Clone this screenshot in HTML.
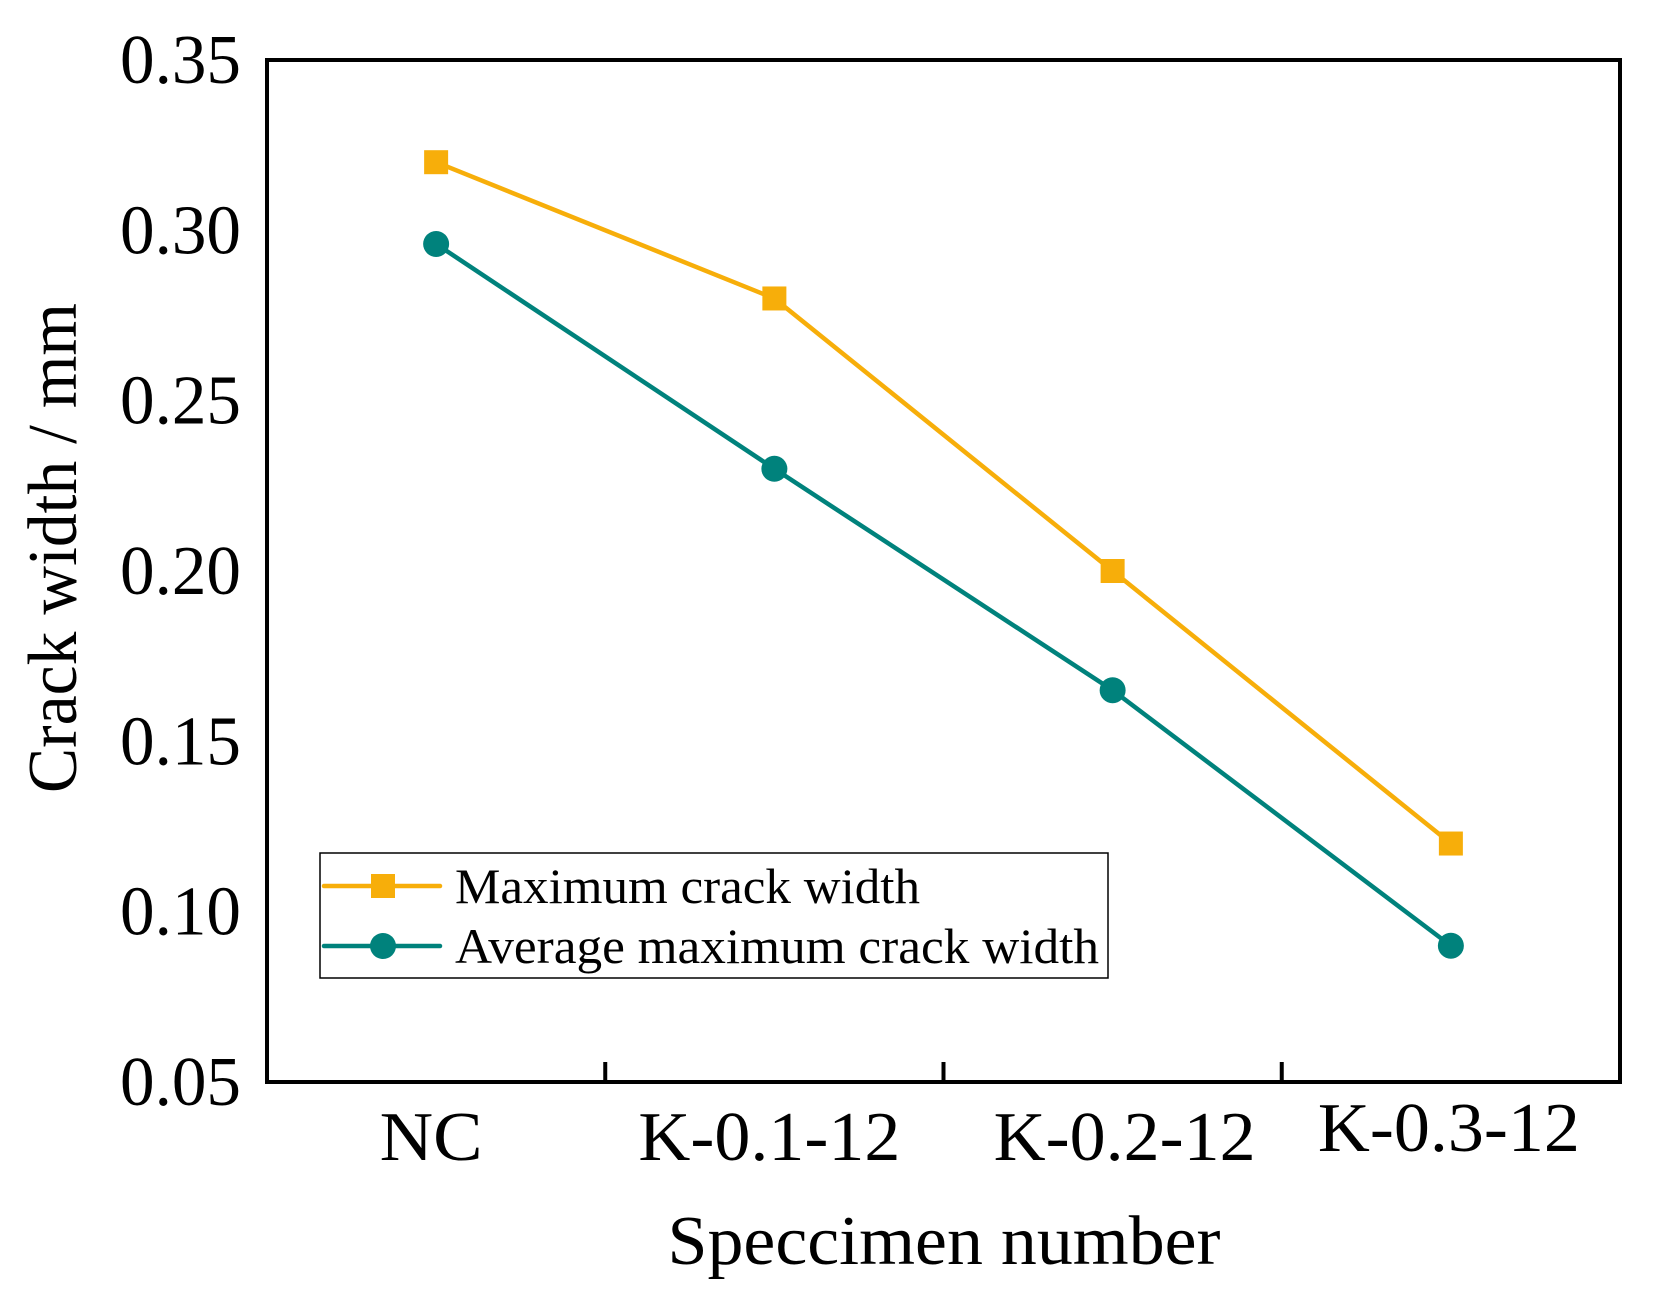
<!DOCTYPE html>
<html><head><meta charset="utf-8"><style>
html,body{margin:0;padding:0;background:#fff;}
svg{display:block;font-family:"Liberation Serif",serif;}
</style></head><body>
<svg id="chart" width="1665" height="1297" viewBox="0 0 1665 1297" xmlns="http://www.w3.org/2000/svg"></svg>
<script>
const categories = ["NC", "K-0.1-12", "K-0.2-12", "K-0.3-12"];
const maxWidth = [0.32, 0.28, 0.20, 0.12];
const avgWidth = [0.296, 0.23, 0.165, 0.09];
const yTicks = [0.05, 0.10, 0.15, 0.20, 0.25, 0.30, 0.35];
const yTickLabels = ["0.05", "0.10", "0.15", "0.20", "0.25", "0.30", "0.35"];

const L = 267, R = 1620, T = 60, B = 1082;
const yMin = 0.05, yMax = 0.35;
const band = (R - L) / categories.length;
function xPos(i){ return L + band * (i + 0.5); }
function yPos(v){ return B - (v - yMin) / (yMax - yMin) * (B - T); }
const svg = document.getElementById('chart');
const NS = "http://www.w3.org/2000/svg";
function mk(tag, attrs, parent){
  const e = document.createElementNS(NS, tag);
  for (const k in attrs) e.setAttribute(k, attrs[k]);
  (parent || svg).appendChild(e);
  return e;
}
const frame = mk('rect', {x:L, y:T, width:R-L, height:B-T, fill:'none', stroke:'#000', 'stroke-width':4});


yTicks.forEach((v, i) => {
  const y = yPos(v);
  const t = mk('text', {x:241, y:y+23, 'text-anchor':'end', 'font-size':70, fill:'#000', textLength:121, lengthAdjust:'spacingAndGlyphs'});
  t.textContent = yTickLabels[i];
  
  
});
for (let i = 1; i < categories.length; i++) {
  const x = L + band * i;
  const tk = mk('line', {x1:x, y1:B, x2:x, y2:B-20, stroke:'#000', 'stroke-width':4});
  
  
}
const xLabelW = [103, 262, 262, 262];
const xLabelDx = [-5, -5, 12, -2];
categories.forEach((c, i) => {
  const t = mk('text', {x:xPos(i)+xLabelDx[i], y:(i===3?1151:1160), 'text-anchor':'middle', 'font-size':70, fill:'#000', textLength:xLabelW[i], lengthAdjust:'spacingAndGlyphs'});
  t.textContent = c;
  
  
});
const xt = mk('text', {x:944, y:1264, 'text-anchor':'middle', 'font-size':70, fill:'#000', textLength:553, lengthAdjust:'spacingAndGlyphs'});
xt.textContent = "Speccimen number";


const yt = mk('text', {x:0, y:0, 'text-anchor':'middle', 'font-size':70, fill:'#000', textLength:490, lengthAdjust:'spacingAndGlyphs', transform:'translate(76,548) rotate(-90)'});
yt.textContent = "Crack width / mm";



const ORANGE = '#F7AE0A', TEAL = '#00827C';
function series(vals, color, marker, name){
  const g = mk('g', {});
  
  
  const pts = vals.map((v, i) => xPos(i) + ',' + yPos(v)).join(' ');
  const pl = mk('polyline', {points:pts, fill:'none', stroke:color, 'stroke-width':4.5}, g);
  
  
  vals.forEach((v, i) => {
    let m;
    if (marker === 'square') m = mk('rect', {x:xPos(i)-12, y:yPos(v)-12, width:24, height:24, fill:color}, g);
    else m = mk('circle', {cx:xPos(i), cy:yPos(v), r:13, fill:color}, g);
    
    
  });
}
series(maxWidth, ORANGE, 'square', 'max-crack-width');
series(avgWidth, TEAL, 'circle', 'avg-max-crack-width');

const lg = mk('g', {});


const lb = mk('rect', {x:320, y:853, width:788, height:125, fill:'#fff', stroke:'#000', 'stroke-width':1.5}, lg);


const entries = [["Maximum crack width", ORANGE, 'square', 886, 465], ["Average maximum crack width", TEAL, 'circle', 946, 644]];
entries.forEach(([label, color, marker, y, w]) => {
  const e = mk('g', {}, lg);
  
  
  mk('line', {x1:324, y1:y, x2:440, y2:y, stroke:color, 'stroke-width':4.5, 'stroke-linecap':'round'}, e);
  if (marker === 'square') mk('rect', {x:371, y:y-12, width:24, height:24, fill:color}, e);
  else mk('circle', {cx:383, cy:y, r:13, fill:color}, e);
  const t = mk('text', {x:455, y:y+17, 'font-size':50, fill:'#000', textLength:w, lengthAdjust:'spacingAndGlyphs'}, e);
  t.textContent = label;
});
</script>
</body></html>
